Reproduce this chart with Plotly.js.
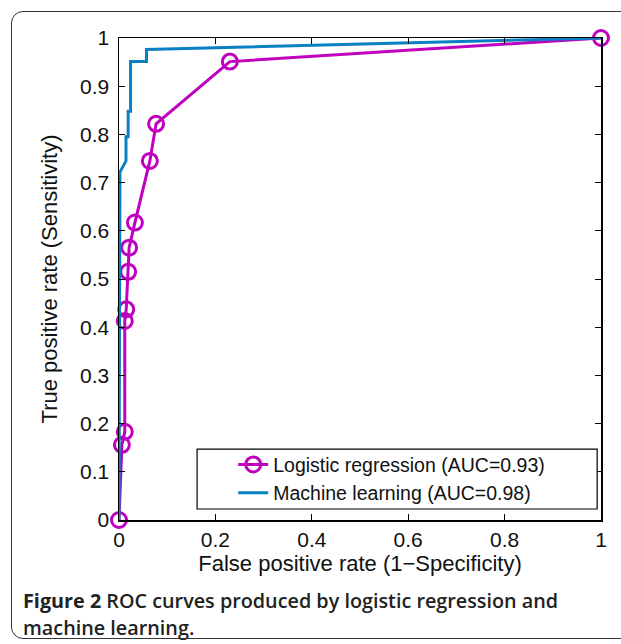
<!DOCTYPE html>
<html>
<head>
<meta charset="utf-8">
<script src="https://cdn.plot.ly/plotly-3.0.1.min.js"></script>
<style>
  html, body { margin: 0; padding: 0; background: #fff; }
  #wrap { position: relative; width: 621px; height: 644px; overflow: hidden; }
  #frame { position: absolute; left: 11px; top: 11px; width: 640px; height: 628px;
           border: 1.5px solid #333; border-radius: 12px; box-sizing: border-box; pointer-events: none; }
  #chart { position: absolute; left: 0; top: 0; width: 621px; height: 644px; }
</style>
</head>
<body>
<div id="wrap">
  <div id="chart"></div>
  <div id="frame"></div>
</div>
<script>
// Logistic regression ROC points
const lrFPR = [0, 0.006, 0.012, 0.012, 0.015, 0.019, 0.021, 0.033, 0.064, 0.077, 0.230, 1];
const lrTPR = [0, 0.156, 0.183, 0.413, 0.437, 0.515, 0.565, 0.617, 0.745, 0.822, 0.951, 1];

// Machine learning ROC curve
const mlFPR = [0, 0.002, 0.0145, 0.0145, 0.019, 0.019, 0.024, 0.024, 0.057, 0.057, 1];
const mlTPR = [0, 0.722, 0.745, 0.795, 0.795, 0.848, 0.848, 0.951, 0.951, 0.976, 1];

const seriesNames = ["Logistic regression (AUC=0.93)", "Machine learning (AUC=0.98)"];
const xTicks = [0, 0.2, 0.4, 0.6, 0.8, 1];
const yTicks = [0, 0.1, 0.2, 0.3, 0.4, 0.5, 0.6, 0.7, 0.8, 0.9, 1];
const xTitle = "False positive rate (1\u2212Specificity)";
const yTitle = "True positive rate (Sensitivity)";
const captionBold = "Figure 2";
const captionLine1 = " ROC curves produced by logistic regression and";
const captionLine2 = "machine learning.";

const magenta = "#bf00bf";
const blue = "#0a80c4";
const fontMain = "Liberation Sans, Arial, sans-serif";

const traces = [
  {
    x: lrFPR, y: lrTPR, name: seriesNames[0], type: "scatter", mode: "lines+markers",
    cliponaxis: false,
    line: { color: magenta, width: 3 },
    marker: { symbol: "circle-open", size: 15, color: magenta, line: { width: 3, color: magenta } }
  },
  {
    x: mlFPR, y: mlTPR, name: seriesNames[1], type: "scatter", mode: "lines",
    cliponaxis: false,
    line: { color: blue, width: 3 }
  }
];

const axisCommon = {
  showgrid: false, zeroline: false, showline: true, linecolor: "#000", linewidth: 1.5,
  mirror: "ticks", ticks: "inside", ticklen: 6, tickwidth: 1, tickcolor: "#000",
  tickfont: { family: fontMain, size: 21, color: "#111" }
};

const layout = {
  width: 621, height: 644,
  margin: { l: 119, r: 20, t: 38, b: 124 },
  paper_bgcolor: "rgba(0,0,0,0)", plot_bgcolor: "#fff",
  showlegend: true,
  xaxis: Object.assign({}, axisCommon, {
    range: [0, 1], tickvals: xTicks, ticktext: xTicks.map(String),
    title: { text: xTitle, standoff: 4, font: { family: fontMain, size: 22, color: "#111" } }
  }),
  yaxis: Object.assign({}, axisCommon, {
    range: [0, 1], tickvals: yTicks, ticktext: yTicks.map(String), ticklabelstandoff: 4,
    title: { text: yTitle, standoff: 16, font: { family: fontMain, size: 22, color: "#111" } }
  }),
  legend: {
    x: 0.237, y: 0.155, xanchor: "left", yanchor: "top",
    bgcolor: "rgba(0,0,0,0)", borderwidth: 0,
    font: { family: fontMain, size: 19.5, color: "#111" },
    tracegroupgap: 0
  },
  shapes: [
    {
      type: "rect", xref: "paper", yref: "paper", layer: "above",
      x0: 0.162, x1: 0.992, y0: 0.0228, y1: 0.147,
      line: { color: "#000", width: 1.2 }, fillcolor: "#fff"
    }
  ],
  annotations: [
    {
      xref: "paper", yref: "paper", x: -0.203, y: -0.167, xanchor: "left", yanchor: "middle",
      showarrow: false, align: "left",
      text: "<b>" + captionBold + "</b>" + captionLine1,
      font: { family: "Open Sans, Noto Sans, sans-serif", size: 19.8, color: "#222", weight: 600 }
    },
    {
      xref: "paper", yref: "paper", x: -0.203, y: -0.224, xanchor: "left", yanchor: "middle",
      showarrow: false, align: "left",
      text: captionLine2,
      font: { family: "Open Sans, Noto Sans, sans-serif", size: 19.8, color: "#222", weight: 600 }
    }
  ]
};

Plotly.newPlot("chart", traces, layout, { displayModeBar: false, staticPlot: true });
</script>
</body>
</html>
